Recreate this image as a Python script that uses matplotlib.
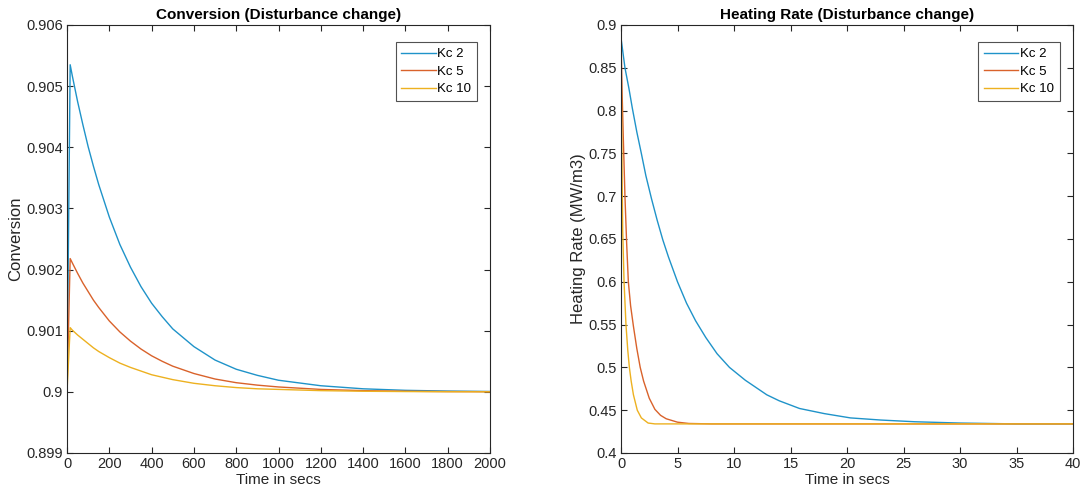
import matplotlib
matplotlib.use("Agg")
import matplotlib.pyplot as plt
from matplotlib.ticker import FormatStrFormatter, MultipleLocator

# conversion response (left), time in s
t_conv = [0, 15, 25, 50, 75, 100, 125, 150, 200, 250, 300, 350, 400, 450, 500,
          600, 700, 800, 900, 1000, 1200, 1400, 1600, 1800, 2000]
conv_kc2 = [0.9, 0.90535, 0.90517, 0.90475, 0.90437, 0.90401, 0.90369, 0.90339,
            0.90286, 0.90241, 0.90204, 0.90172, 0.90145, 0.90123, 0.90103,
            0.90074, 0.90052, 0.90037, 0.90027, 0.90019, 0.90010, 0.90005,
            0.900025, 0.900013, 0.900006]
conv_kc5 = [0.9, 0.90218, 0.90211, 0.90194, 0.90178, 0.90164, 0.90150, 0.90138,
            0.90116, 0.90098, 0.90083, 0.90070, 0.90059, 0.90050, 0.90042,
            0.90030, 0.90021, 0.90015, 0.90011, 0.90008, 0.90004, 0.90002,
            0.90001, 0.900005, 0.900003]
conv_kc10 = [0.9, 0.90105, 0.90101, 0.90093, 0.90086, 0.90079, 0.90072, 0.90066,
             0.90056, 0.90047, 0.90040, 0.90034, 0.90028, 0.90024, 0.90020,
             0.90014, 0.90010, 0.90007, 0.90005, 0.90004, 0.90002, 0.90001,
             0.900005, 0.900002, 0.900001]

# heating rate response (right)
t_h2 = [0, 0.35, 0.7, 1, 1.4, 1.8, 2.2, 2.7, 3.2, 3.7, 4.2, 5, 5.8, 6.6, 7.5,
        8.5, 9.6, 11, 12.9, 14, 15.8, 18, 20.3, 23, 26, 30, 35, 40]
heat_kc2 = [0.885, 0.85, 0.826, 0.803, 0.775, 0.750, 0.724, 0.697, 0.672, 0.649,
            0.629, 0.600, 0.575, 0.5545, 0.535, 0.516, 0.500, 0.485, 0.468,
            0.461, 0.452, 0.446, 0.441, 0.4385, 0.4365, 0.435, 0.434, 0.434]
t_h5 = [0, 0.1, 0.2, 0.35, 0.5, 0.65, 0.85, 1.1, 1.4, 1.7, 2.0, 2.5, 3.0, 3.5,
        4.0, 5.0, 6.0, 8.0, 40]
heat_kc5 = [0.885, 0.82, 0.77, 0.70, 0.645, 0.60, 0.572, 0.548, 0.522, 0.50,
            0.484, 0.464, 0.451, 0.444, 0.440, 0.436, 0.4345, 0.434, 0.434]
t_h10 = [0, 0.05, 0.1, 0.15, 0.27, 0.44, 0.6, 0.74, 0.9, 1.1, 1.44, 1.8, 2.4,
         3.0, 40]
heat_kc10 = [0.885, 0.80, 0.72, 0.66, 0.60, 0.55, 0.52, 0.50, 0.484, 0.468,
             0.45, 0.441, 0.435, 0.434, 0.434]

labels = ["Kc 2", "Kc 5", "Kc 10"]
colors = ["#1f93c9", "#d9622b", "#edb120"]

plt.rcParams["font.family"] = ["Liberation Sans", "DejaVu Sans"]
fig = plt.figure(figsize=(10.85, 4.91), dpi=100)
ax1 = fig.add_axes([67 / 1085, 38 / 491, 423 / 1085, 428 / 491])
ax2 = fig.add_axes([621 / 1085, 38 / 491, 452 / 1085, 428 / 491])

for y, lab, c in zip([conv_kc2, conv_kc5, conv_kc10], labels, colors):
    ax1.plot(t_conv, y, color=c, lw=1.0, label=lab)
for x, y, lab, c in zip([t_h2, t_h5, t_h10], [heat_kc2, heat_kc5, heat_kc10], labels, colors):
    ax2.plot(x, y, color=c, lw=1.0, label=lab)

ax1.set_xlim(0, 2000); ax1.set_ylim(0.899, 0.906)
ax1.xaxis.set_major_locator(MultipleLocator(200))
ax1.yaxis.set_major_locator(MultipleLocator(0.001))
ax2.set_xlim(0, 40); ax2.set_ylim(0.4, 0.9)
ax2.xaxis.set_major_locator(MultipleLocator(5))
ax2.yaxis.set_major_locator(MultipleLocator(0.05))

for ax in (ax1, ax2):
    ax.yaxis.set_major_formatter(FormatStrFormatter("%g"))
    ax.tick_params(direction="in", top=True, right=True, labelsize=10.5,
                   colors="#262626", length=4, width=0.8, pad=3)
    for s in ax.spines.values():
        s.set_color("#262626"); s.set_linewidth(0.8)
    ax.set_xlabel("Time in secs", fontsize=11, color="#262626", labelpad=1)
    leg = ax.legend(loc="upper right", fontsize=9.5, handlelength=2.6, handletextpad=0.1,
                    borderpad=0.45, labelspacing=0.4, fancybox=False,
                    bbox_to_anchor=(0.985, 0.975))
    leg.get_frame().set_edgecolor("#262626"); leg.get_frame().set_linewidth(0.8)

ax1.set_ylabel("Conversion", fontsize=12, color="#262626", labelpad=2)
ax2.set_ylabel("Heating Rate (MW/m3)", fontsize=12, color="#262626", labelpad=2)
ax1.set_title("Conversion (Disturbance change)", fontsize=11, fontweight="bold", pad=4)
ax2.set_title("Heating Rate (Disturbance change)", fontsize=11, fontweight="bold", pad=4)

fig.savefig("out.png", dpi=100)
